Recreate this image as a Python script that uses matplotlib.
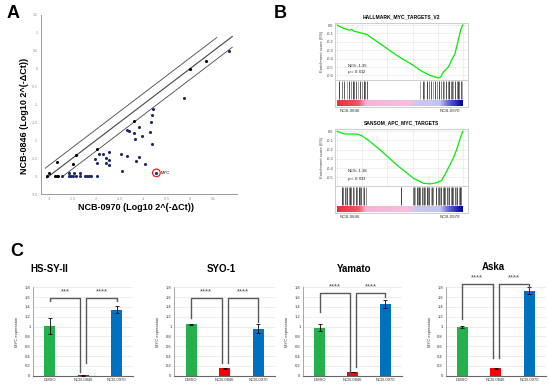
import numpy as np
import matplotlib
matplotlib.use("Agg")
import matplotlib.pyplot as plt
from matplotlib.colors import LinearSegmentedColormap

plt.rcParams['font.family'] = ['Liberation Sans', 'DejaVu Sans']

# ---------------- panel A : scatter ----------------
black_x = [-3.05, -3.0, -2.83, -2.87, -2.84, -2.80, -2.49, -2.43, -1.97, -1.2, 0.0, 0.33]
black_y = [-3.0, -2.92, -2.62, -3.0, -3.0, -3.0, -2.65, -2.41, -2.23, -1.45, 0.0, 0.21]

blue_x = [-2.73, -2.58, -2.54, -2.49, -2.42, -2.35, -2.24, -2.19, -2.15, -2.10, -1.98,
          -2.57, -2.47, -2.35,
          -1.945, -1.854, -1.727, -2.015, -1.98, -1.78, -1.78, -1.713, -1.727,
          -1.467, -1.445, -1.34, -1.158, -1.08, -0.954,
          -1.34, -1.29, -1.2, -1.18, -1.08, -1.03, -0.86, -0.82, -0.806, -0.80, -0.778,
          -0.124, 0.84]
blue_y = [-3.0, -3.0, -3.0, -3.0, -3.0, -3.0, -3.0, -3.0, -3.0, -3.0, -3.0,
          -2.9, -2.9, -2.9,
          -2.38, -2.38, -2.33, -2.52, -2.63, -2.49, -2.63, -2.56, -2.70,
          -2.38, -2.87, -2.43, -2.59, -2.47, -2.66,
          -1.72, -1.75, -1.805, -1.975, -1.63, -1.88, -1.76, -1.50, -1.29, -2.09, -1.13,
          -0.816, 0.49]
myc_x = -0.715
myc_y = -2.91

# reference lines: identity and 2-fold (log10 2)
fold = np.log10(2)
line_x_mid = [-3.05, 0.9]
line_x_up = [-3.08, 0.57]
line_x_low = [-2.72, 0.9]

# ---------------- panel B : GSEA ----------------
es1_x = [0, 0.035, 0.074, 0.1, 0.114, 0.128, 0.207, 0.234, 0.34, 0.473, 0.606, 0.673,
         0.74, 0.78, 0.806, 0.824, 0.846, 0.886, 0.912, 0.939, 0.965, 0.984, 1.0]
es1_y = [0, -0.03, -0.05, -0.06, -0.05, -0.07, -0.10, -0.11, -0.22, -0.36, -0.48, -0.55,
         -0.60, -0.62, -0.63, -0.62, -0.56, -0.50, -0.42, -0.34, -0.18, -0.06, 0.0]
hits1 = [0.016, 0.037, 0.053, 0.075, 0.096, 0.109, 0.123, 0.133, 0.149, 0.165, 0.181,
         0.197, 0.213, 0.223, 0.239,
         0.66, 0.681, 0.691, 0.713, 0.729, 0.745, 0.766, 0.782, 0.798, 0.814, 0.827,
         0.84, 0.851, 0.867, 0.88, 0.893, 0.904, 0.915, 0.925, 0.941, 0.952, 0.963,
         0.973, 0.984, 0.995]

es2_x = [0, 0.048, 0.074, 0.154, 0.194, 0.234, 0.34, 0.473, 0.606, 0.686, 0.74, 0.793,
         0.832, 0.859, 0.899, 0.926, 0.952, 0.979, 1.0]
es2_y = [0, -0.026, -0.03, -0.03, -0.047, -0.084, -0.2, -0.365, -0.51, -0.566, -0.573,
         -0.56, -0.536, -0.47, -0.365, -0.29, -0.2, -0.084, 0.0]
hits2 = [0.035, 0.045, 0.058, 0.068, 0.08, 0.09, 0.1, 0.112, 0.125, 0.135, 0.147, 0.158,
         0.17, 0.18, 0.193, 0.205, 0.217, 0.229,
         0.508,
         0.601, 0.612, 0.622, 0.632, 0.643, 0.652, 0.662, 0.672, 0.683, 0.693, 0.703,
         0.713, 0.724, 0.735, 0.745, 0.756, 0.766, 0.79, 0.8, 0.81, 0.82, 0.831, 0.842,
         0.852, 0.862, 0.873, 0.884, 0.894, 0.905, 0.915, 0.926, 0.936, 0.947, 0.957,
         0.968, 0.978, 0.99]

# ---------------- panel C : bars ----------------
cell_lines = ["HS-SY-II", "SYO-1", "Yamato", "Aska"]
treatments = ["DMSO", "NCB-0846", "NCB-0970"]
bar_means = [[1.01, 0.005, 1.34],
             [1.05, 0.15, 0.96],
             [0.98, 0.08, 1.46],
             [1.0, 0.15, 1.73]]
bar_errs = [[0.17, 0.003, 0.07],
            [0.01, 0.01, 0.09],
            [0.07, 0.005, 0.08],
            [0.02, 0.01, 0.07]]
br_top = [1.59, 1.59, 1.69, 1.87]
br1_left = [1.52, 1.17, 1.29, 1.15]
br1_right = [0.08, 0.25, 0.04, 0.36]
br2_left = [0.25, 0.25, 0.18, 0.36]
br2_right = [1.52, 1.1, 1.6, 1.78]
stars1 = ["***", "****", "****", "****"]
stars2 = ["****", "****", "****", "****"]
bar_colors = ['#22b14c', '#ff0000', '#0070c0']

W, H = 550, 387
fig = plt.figure(figsize=(5.5, 3.87), dpi=100)


def fx(px):
    return px / W


def fy(py):
    return 1 - py / H


def fmt(v):
    return f"{v:g}"


# ---- A
ax = fig.add_axes([fx(41), fy(194), fx(196), 179 / H])
ax.plot(line_x_mid, line_x_mid, color='#444444', lw=0.8)
ax.plot(line_x_up, [v + fold for v in line_x_up], color='#444444', lw=0.6)
ax.plot(line_x_low, [v - fold for v in line_x_low], color='#444444', lw=0.6)
ax.scatter(blue_x, blue_y, s=5, color='#1b2a6b', zorder=3, linewidths=0)
ax.scatter(black_x, black_y, s=5, color='black', zorder=3, linewidths=0)
ax.scatter([myc_x], [myc_y], s=5, color='#1b2a6b', zorder=3, linewidths=0)
ax.scatter([myc_x], [myc_y], s=30, facecolors='none', edgecolors='red', linewidths=0.8, zorder=4)
ax.text(myc_x + 0.09, myc_y, "MYC", fontsize=3, va='center', ha='left')
ax.set_xlim(-3.17, 1.0)
ax.set_ylim(-3.5, 1.5)
xt = np.arange(-3, 0.51, 0.5)
yt = np.arange(-3.5, 1.51, 0.5)
ax.set_xticks(xt)
ax.set_xticklabels([fmt(v) for v in xt])
ax.set_yticks(yt)
ax.set_yticklabels([fmt(v) for v in yt])
ax.tick_params(labelsize=2.5, colors='#888888', length=0, pad=2)
for s in ['top', 'right']:
    ax.spines[s].set_visible(False)
for s in ['left', 'bottom']:
    ax.spines[s].set_color('#999999')
    ax.spines[s].set_linewidth(0.7)
fig.text(fx(136), fy(208), "NCB-0970 (Log10 2^(-\u0394Ct))", fontsize=6.5,
         fontweight='bold', ha='center', va='center')
fig.text(fx(25), fy(116), "NCB-0846 (Log10 2^(-\u0394Ct))", fontsize=6.5,
         fontweight='bold', ha='center', va='center', rotation=90)

# ---- B
cmap = LinearSegmentedColormap.from_list('rb', [
    (0, '#e8303c'), (0.17, '#ef5565'), (0.23, '#f6b4d4'), (0.58, '#f6bedf'),
    (0.63, '#cac7ef'), (0.82, '#c3c3f0'), (0.88, '#6c6cdc'), (0.95, '#2a2abe'),
    (1, '#0000a0')])
grad = np.linspace(0, 1, 256).reshape(1, -1)
hit_colors = ['#222222', '#666666', '#444444', '#999999', '#333333', '#777777']


def gsea(top, es_x, es_y, hits, title, ylo, yticks, nes, pval):
    left = fx(335.4)
    width = fx(132.9)
    a = fig.add_axes([left, fy(top + 57), width, 57 / H])
    a.plot(es_x, es_y, color='#00ee00', lw=0.9)
    a.set_xlim(-0.015, 1.045)
    a.set_ylim(ylo, 0.025)
    a.set_yticks(yticks)
    a.set_yticklabels([f"{v:.1f}" for v in yticks])
    a.set_xticks([0, 0.2, 0.4, 0.6, 0.8, 1.0])
    a.set_xticklabels([])
    a.grid(True, color='#e4e4e4', lw=0.4)
    a.tick_params(labelsize=2.8, colors='#444444', length=0, pad=1.5)
    for s in a.spines.values():
        s.set_color('#bbbbbb')
        s.set_linewidth(0.5)
    a.set_ylabel("Enrichment score (ES)", fontsize=3, color='#444444', labelpad=2)
    a.set_title(title, fontsize=3.6, fontweight='bold', pad=3)
    a.text(0.08, nes[1], nes[0], fontsize=3.1, color='#222222', va='center')
    a.text(0.08, pval[1], "$p$ = " + pval[0], fontsize=3.1, color='#222222', va='center')

    h = fig.add_axes([left, fy(top + 84), width, 27 / H])
    h.set_xlim(-0.015, 1.045)
    h.set_ylim(0, 1)
    for i, x in enumerate(hits):
        h.vlines(x, 0.28, 0.95, color=hit_colors[i % len(hit_colors)], lw=0.6)
    h.imshow(grad, cmap=cmap, aspect='auto', extent=(0, 1, 0.05, 0.24))
    h.set_xticks([])
    h.set_yticks([])
    for s in h.spines.values():
        s.set_color('#bbbbbb')
        s.set_linewidth(0.5)
    fig.text(fx(350), fy(top + 88), "NCB-0846", fontsize=3.2, color='#333333',
             ha='center', va='center')
    fig.text(fx(450), fy(top + 88), "NCB-0970", fontsize=3.2, color='#333333',
             ha='center', va='center')


gsea(23, es1_x, es1_y, hits1, "HALLMARK_MYC_TARGETS_V2", -0.655,
     [0.0, -0.1, -0.2, -0.3, -0.4, -0.5, -0.6], ("NES:-1.35", -0.49), ("0.012", -0.56))
gsea(129, es2_x, es2_y, hits2, "SANSOM_APC_MYC_TARGETS", -0.596,
     [0.0, -0.1, -0.2, -0.3, -0.4, -0.5], ("NES:-1.18", -0.435), ("0.031", -0.52))

# ---- C
ax_left = [33.3, 174.3, 303.3, 445.7]
ax_width = [100, 100.5, 98.5, 100]
title_x = [49, 221, 354, 493]
title_y = [269, 269, 269, 267]
pos = np.arange(len(treatments))
for k in range(len(cell_lines)):
    b = fig.add_axes([fx(ax_left[k]), fy(375.7), fx(ax_width[k]), 88.4 / H])
    b.bar(pos, bar_means[k], width=0.33, color=bar_colors, zorder=2)
    b.errorbar(pos, bar_means[k], yerr=bar_errs[k], fmt='none', ecolor='black',
               elinewidth=0.6, capsize=1.2, capthick=0.6, zorder=3)
    b.set_xlim(-0.5, 2.5)
    b.set_ylim(0, 1.8)
    yt = np.arange(0, 1.81, 0.2)
    b.set_yticks(yt)
    b.set_yticklabels([fmt(round(v, 1)) for v in yt])
    b.set_xticks(pos)
    b.set_xticklabels(treatments)
    b.tick_params(labelsize=3, colors='#333333', length=0, pad=2)
    b.yaxis.grid(True, color='#e6e6e6', lw=0.5, zorder=0)
    b.set_axisbelow(True)
    for s in ['top', 'right']:
        b.spines[s].set_visible(False)
    b.spines['left'].set_color('#999999')
    b.spines['bottom'].set_color('#666666')
    b.spines['left'].set_linewidth(0.6)
    b.spines['bottom'].set_linewidth(0.8)
    b.set_ylabel("MYC expression", fontsize=3, color='#333333', labelpad=4)
    t = br_top[k]
    lc = '#595959'
    b.plot([0, 0, 0.91, 0.91], [br1_left[k], t, t, br1_right[k]], color=lc, lw=1.0,
           clip_on=False, zorder=4)
    b.plot([1.09, 1.09, 2, 2], [br2_left[k], t, t, br2_right[k]], color=lc, lw=1.0,
           clip_on=False, zorder=4)
    b.text(0.45, t + 0.05, stars1[k], fontsize=5.5, color='#444444', ha='center',
           va='bottom', clip_on=False)
    b.text(1.55, t + 0.05, stars2[k], fontsize=5.5, color='#444444', ha='center',
           va='bottom', clip_on=False)
    fig.text(fx(title_x[k]), fy(title_y[k]), cell_lines[k], fontsize=7,
             fontweight='bold', ha='center', va='center')

# panel letters
fig.text(fx(13), fy(14), "A", fontsize=13, fontweight='bold', ha='center', va='center')
fig.text(fx(280), fy(14), "B", fontsize=13, fontweight='bold', ha='center', va='center')
fig.text(fx(17), fy(251), "C", fontsize=13, fontweight='bold', ha='center', va='center')

fig.savefig("out.png", dpi=100)
